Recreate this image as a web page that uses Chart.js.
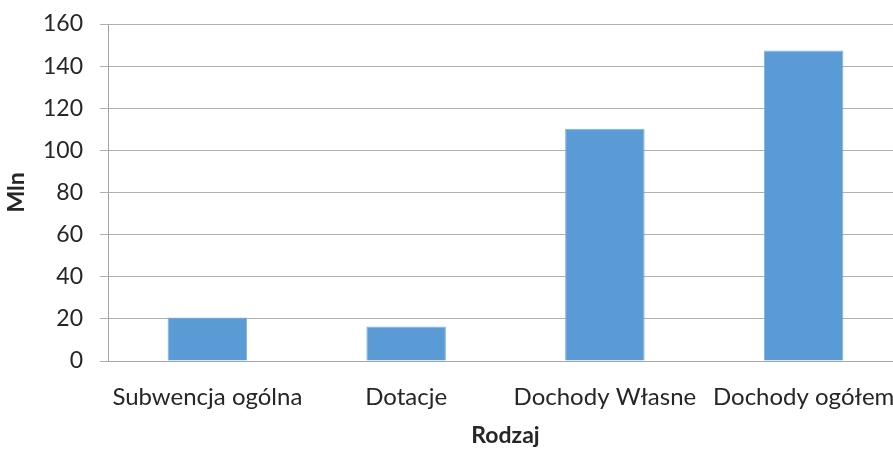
<!DOCTYPE html>
<html><head><meta charset="utf-8">
<script src="https://cdn.jsdelivr.net/npm/chart.js@4"></script>
<style>
html,body{margin:0;padding:0;background:#fff;overflow:hidden;width:893px;height:449px;}
#wrap{position:absolute;left:0;top:0;width:903px;height:449px;}
</style></head><body>
<div id="wrap"><canvas id="c"></canvas></div>
<script>
const categories = ["Subwencja ogólna", "Dotacje", "Dochody Własne", "Dochody ogółem"];
const values = [20.7, 16.4, 110.3, 147.4];
const yTicks = [0, 20, 40, 60, 80, 100, 120, 140, 160];
const yTitle = "Mln";
const xTitle = "Rodzaj";

const FONT = "Lato, Carlito, 'Open Sans', sans-serif";
new Chart(document.getElementById('c'), {
  type: 'bar',
  data: {
    labels: categories,
    datasets: [{
      data: values,
      backgroundColor: '#5B9BD5',
      borderColor: '#7FB2E0',
      borderWidth: 1,
      categoryPercentage: 1,
      barPercentage: 0.4
    }]
  },
  options: {
    responsive: true,
    maintainAspectRatio: false,
    animation: false,
    layout: { padding: { top: 24, right: 0, left: 0, bottom: 0 } },
    plugins: { legend: { display: false }, tooltip: { enabled: false } },
    scales: {
      x: {
        grid: { display: false, drawTicks: false },
        border: { color: '#A6A6A6', width: 1 },
        ticks: { color: '#262626', font: { family: FONT, size: 24 }, padding: 22, maxRotation: 0, autoSkip: false },
        title: { display: true, text: xTitle, color: '#262626', font: { family: FONT, size: 23, weight: 'bold' }, padding: { top: 0, bottom: 0 } },
        afterFit: s => { s.height = 88; s.paddingLeft = 0; s.paddingRight = 0; }
      },
      y: {
        min: 0, max: 160,
        afterBuildTicks: s => { s.ticks = yTicks.map(v => ({ value: v })); },
        grid: { color: '#B0B0B0', lineWidth: 1, tickLength: 8, drawTicks: true },
        border: { color: '#A6A6A6', width: 1 },
        ticks: { color: '#262626', font: { family: FONT, size: 23 }, padding: 17 },
        title: { display: true, text: yTitle, color: '#262626', font: { family: FONT, size: 23, weight: 'bold' }, padding: { top: 3, bottom: 0 } },
        afterFit: s => { s.width = 108; s.paddingTop = 0; s.paddingBottom = 0; }
      }
    }
  }
});
</script>
</body></html>
